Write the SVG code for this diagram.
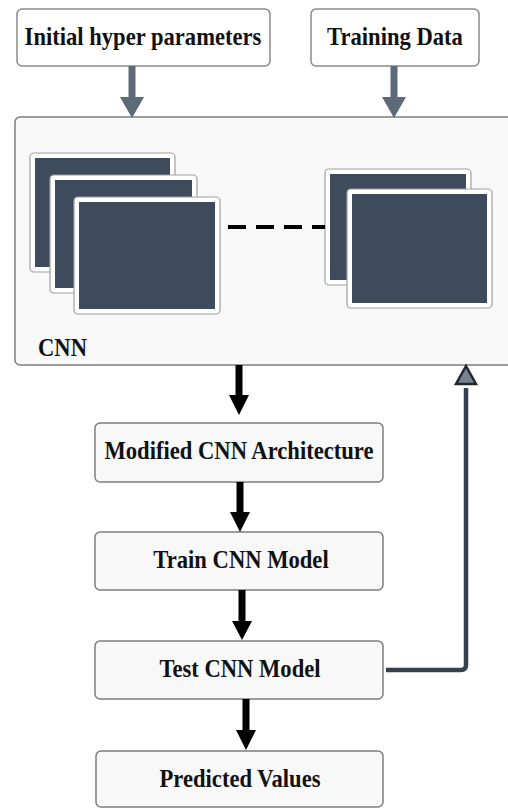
<svg xmlns="http://www.w3.org/2000/svg" width="508" height="808" viewBox="0 0 508 808">
<style>
.box{fill:#ffffff;stroke:#8a8a8a;stroke-width:1.5}
.lbox{fill:#f8f8f8;stroke:#7d7d7d;stroke-width:1.5}
.t{font-family:"Liberation Serif","Times New Roman",serif;font-weight:bold;font-size:22.6px;fill:#111;text-anchor:middle}
.layer-o{fill:#ffffff;stroke:#a0a0a0;stroke-width:1.2}
.layer-i{fill:#3d4b5d}
.ga{fill:#5f6a79}
.ba{fill:#000}
</style>
<rect width="508" height="808" fill="#ffffff"/>
<g id="cnn">
<rect x="15" y="117" width="510" height="248" rx="5" class="lbox"/>
<g id="layer1"><rect x="30" y="153" width="145" height="119" rx="4" class="layer-o"/><rect x="35" y="158" width="135" height="109" class="layer-i"/></g>
<g id="layer2"><rect x="50" y="175" width="147" height="118" rx="4" class="layer-o"/><rect x="55" y="180" width="137" height="108" class="layer-i"/></g>
<g id="layer3"><rect x="74" y="197" width="146" height="117" rx="4" class="layer-o"/><rect x="79" y="202" width="136" height="107" class="layer-i"/></g>
<g id="layer4"><rect x="325" y="169" width="146" height="116" rx="4" class="layer-o"/><rect x="330" y="174" width="136" height="106" class="layer-i"/></g>
<g id="layer5"><rect x="347" y="189" width="145" height="119" rx="4" class="layer-o"/><rect x="352" y="194" width="135" height="109" class="layer-i"/></g>
<text transform="translate(38,356) scale(1,1.08)" class="t" style="text-anchor:start">CNN</text>
</g>
<g id="n-init"><rect x="17" y="9" width="253" height="57" rx="5" class="box"/><text transform="translate(143,45) scale(1,1.08)" class="t">Initial hyper parameters</text></g>
<g id="n-train-data"><rect x="311" y="9" width="168" height="57" rx="5" class="box"/><text transform="translate(395,45) scale(1,1.08)" class="t">Training Data</text></g>
<g id="n-mod"><rect x="95" y="423" width="288" height="59" rx="5" class="lbox"/><text transform="translate(239,459) scale(1,1.08)" class="t">Modified CNN Architecture</text></g>
<g id="n-train"><rect x="95" y="532" width="288" height="58" rx="5" class="lbox"/><text transform="translate(241,568) scale(1,1.08)" class="t">Train CNN Model</text></g>
<g id="n-test"><rect x="95" y="641" width="288" height="58" rx="5" class="lbox"/><text transform="translate(240,677) scale(1,1.08)" class="t">Test CNN Model</text></g>
<g id="n-pred"><rect x="96" y="751" width="287" height="56" rx="5" class="lbox"/><text transform="translate(240,787) scale(1,1.08)" class="t">Predicted Values</text></g>
<g id="connectors">
<line x1="220" y1="227" x2="325" y2="227" stroke="#000" stroke-width="4" stroke-dasharray="18 10" stroke-dashoffset="-8"/>
<path class="ga" d="M128.5 66 H135.5 V97 H144 L132 118 L120 97 H128.5 Z"/>
<path class="ga" d="M390.5 66 H397.5 V97 H406 L394 118 L382 97 H390.5 Z"/>
<path class="ba" d="M235.5 365 H242.5 V395 H249 L239 415 L229 395 H235.5 Z"/>
<path class="ba" d="M236.5 482 H243.5 V512 H250 L240 532 L230 512 H236.5 Z"/>
<path class="ba" d="M238.5 590 H245.5 V621 H252 L242 640 L232 621 H238.5 Z"/>
<path class="ba" d="M242.5 699 H249.5 V730 H256 L246 750 L236 730 H242.5 Z"/>
<path d="M386 670 H461 Q466 670 466 665 V388" fill="none" stroke="#36414f" stroke-width="4.5"/>
<polygon points="466,366 476,384 456,384" fill="#7a828c" stroke="#1f2630" stroke-width="2.5" stroke-linejoin="miter"/>
</g>
</svg>
